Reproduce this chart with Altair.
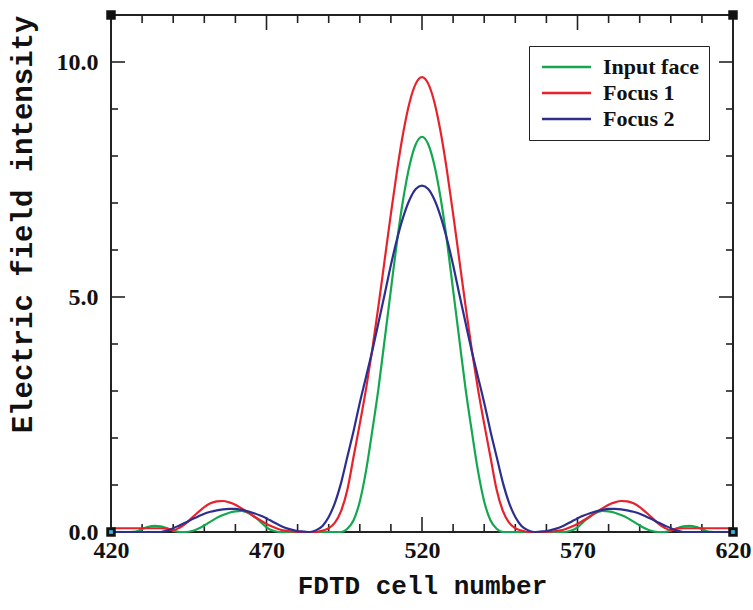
import altair as alt
import pandas as pd

# FDTD cell numbers (every 2 cells)
cells = list(range(420, 621, 2))

input_face = [
    0, 0, 0, 0, 0.01, 0.06, 0.11, 0.13, 0.12, 0.08,
    0.03, 0, 0, 0.02, 0.07, 0.14, 0.22, 0.30, 0.36, 0.41,
    0.44, 0.45, 0.41, 0.33, 0.22, 0.10, 0.03, 0, 0, 0,
    0, 0, 0, 0, 0, 0, 0, 0, 0.07, 0.25,
    0.65, 1.30, 2.15, 3.05, 4.10, 5.15, 6.20, 7.10, 7.80, 8.25,
    8.41,
    8.25, 7.80, 7.10, 6.20, 5.15, 4.10, 3.05, 2.15, 1.30, 0.65,
    0.25, 0.07, 0, 0, 0, 0, 0, 0, 0, 0,
    0, 0, 0, 0.03, 0.10, 0.22, 0.33, 0.41, 0.45, 0.44,
    0.41, 0.36, 0.30, 0.22, 0.14, 0.07, 0.02, 0, 0, 0.03,
    0.08, 0.12, 0.13, 0.11, 0.06, 0.01, 0, 0, 0, 0,
]

focus_1 = [
    0.08, 0.08, 0.08, 0.08, 0.08, 0.08, 0.08, 0.08, 0.08, 0.07,
    0.04, 0.09, 0.18, 0.30, 0.42, 0.53, 0.61, 0.65, 0.66, 0.63,
    0.58, 0.50, 0.42, 0.33, 0.25, 0.17, 0.11, 0.06, 0.03, 0.01,
    0, 0, 0, 0, 0.03, 0.08, 0.20, 0.45, 0.90, 1.60,
    2.30, 3.04, 3.88, 4.81, 5.79, 6.77, 7.70, 8.51, 9.14, 9.54,
    9.68,
    9.54, 9.14, 8.51, 7.70, 6.77, 5.79, 4.81, 3.88, 3.04, 2.30,
    1.60, 0.90, 0.45, 0.20, 0.08, 0.03, 0, 0, 0, 0,
    0.01, 0.03, 0.06, 0.11, 0.17, 0.25, 0.33, 0.42, 0.50, 0.58,
    0.63, 0.66, 0.65, 0.61, 0.53, 0.42, 0.30, 0.18, 0.09, 0.04,
    0.07, 0.08, 0.08, 0.08, 0.08, 0.08, 0.08, 0.08, 0.08, 0.08,
]

focus_2 = [
    0, 0, 0, 0, 0, 0, 0, 0, 0, 0.03,
    0.08, 0.14, 0.20, 0.27, 0.33, 0.39, 0.43, 0.46, 0.48, 0.49,
    0.49, 0.47, 0.44, 0.40, 0.35, 0.29, 0.22, 0.15, 0.09, 0.05,
    0.02, 0.01, 0, 0.04, 0.13, 0.32, 0.62, 1.05, 1.60, 2.15,
    2.75, 3.30, 3.85, 4.45, 5.06, 5.68, 6.24, 6.71, 7.07, 7.30,
    7.37,
    7.30, 7.07, 6.71, 6.24, 5.68, 5.06, 4.45, 3.85, 3.30, 2.75,
    2.15, 1.60, 1.05, 0.62, 0.32, 0.13, 0.04, 0, 0.01, 0.02,
    0.05, 0.09, 0.15, 0.22, 0.29, 0.35, 0.40, 0.44, 0.47, 0.49,
    0.49, 0.48, 0.46, 0.43, 0.39, 0.33, 0.27, 0.20, 0.14, 0.08,
    0.03, 0, 0, 0, 0, 0, 0, 0, 0, 0,
]

series_names = ["Input face", "Focus 1", "Focus 2"]
series_colors = ["#13a84f", "#e8222c", "#2d2f8f"]

x_major = [420, 470, 520, 570, 620]
x_minor = [430, 440, 450, 460, 480, 490, 500, 510, 530, 540, 550, 560, 580, 590, 600, 610]
y_major = [0, 5, 10]
y_minor = [1, 2, 3, 4, 6, 7, 8, 9]
corner_x = [420, 620, 420, 620]
corner_y = [0, 0, 11, 11]

rows = []
for name, vals in zip(series_names, [input_face, focus_1, focus_2]):
    for c, v in zip(cells, vals):
        rows.append({"cell": c, "value": v, "series": name})
df = pd.DataFrame(rows)

W, H = 622, 517
xs = alt.Scale(domain=[420, 620], nice=False, zero=False)
ys = alt.Scale(domain=[0, 11], nice=False, zero=False)

label_font = "Liberation Serif"
title_font = "Liberation Mono"

lines = alt.Chart(df).mark_line(strokeWidth=2.2, interpolate="monotone").encode(
    x=alt.X("cell:Q", scale=xs, axis=alt.Axis(
        values=x_major, ticks=False, domain=False, grid=False,
        labelFont=label_font, labelFontSize=24, labelFontWeight="bold",
        labelColor="#111", labelPadding=6, labelFlush=False,
        title="FDTD cell number", titleFont=title_font, titleFontSize=26,
        titleFontWeight="bold", titleColor="#111", titlePadding=10)),
    y=alt.Y("value:Q", scale=ys, axis=alt.Axis(
        values=y_major, format=".1f", ticks=False, domain=False, grid=False,
        labelFont=label_font, labelFontSize=24, labelFontWeight="bold",
        labelColor="#111", labelPadding=13, labelFlush=False,
        title="Electric field intensity", titleFont=title_font, titleFontSize=29,
        titleFontWeight="bold", titleColor="#111", titleAngle=270,
        titleX=-89, titleY=209, titleAlign="center", titleBaseline="middle")),
    color=alt.Color("series:N", scale=alt.Scale(domain=series_names, range=series_colors),
                    legend=alt.Legend(title=None, orient="none", legendX=418, legendY=31,
                                      symbolType="M-1.6,0L8.2,0", symbolSize=100,
                                      symbolStrokeWidth=2.5,
                                      labelFont=label_font, labelFontSize=22,
                                      labelFontWeight="bold", labelColor="#111",
                                      labelOffset=42, rowPadding=4, padding=10,
                                      strokeColor="#222", fillColor="white")),
    order=alt.Order("cell:Q"),
)

tick_color = "#222"
xmin_df = pd.DataFrame({"t": x_minor})
xmaj_df = pd.DataFrame({"t": x_major[1:-1]})
ymin_df = pd.DataFrame({"t": y_minor})
ymaj_df = pd.DataFrame({"t": y_major[1:]})


def xticks(d, length):
    bottom = alt.Chart(d).mark_rule(color=tick_color, strokeWidth=1.6).encode(
        x=alt.X("t:Q", scale=xs), y=alt.value(H), y2=alt.value(H - length))
    top = alt.Chart(d).mark_rule(color=tick_color, strokeWidth=1.6).encode(
        x=alt.X("t:Q", scale=xs), y=alt.value(0), y2=alt.value(length))
    return bottom + top


def yticks(d, length):
    left = alt.Chart(d).mark_rule(color=tick_color, strokeWidth=1.6).encode(
        y=alt.Y("t:Q", scale=ys), x=alt.value(0), x2=alt.value(length))
    right = alt.Chart(d).mark_rule(color=tick_color, strokeWidth=1.6).encode(
        y=alt.Y("t:Q", scale=ys), x=alt.value(W), x2=alt.value(W - length))
    return left + right


corners = alt.Chart(pd.DataFrame({"cx": corner_x, "cy": corner_y})).mark_square(
    filled=True, color="#111", size=90, opacity=1).encode(
    x=alt.X("cx:Q", scale=xs), y=alt.Y("cy:Q", scale=ys))
corner_dots = alt.Chart(pd.DataFrame({"cx": corner_x[:2], "cy": corner_y[:2]})).mark_square(
    filled=True, color="#3fb6e0", size=14, opacity=1).encode(
    x=alt.X("cx:Q", scale=xs), y=alt.Y("cy:Q", scale=ys))

chart = alt.layer(
    xticks(xmin_df, 8), xticks(xmaj_df, 15), yticks(ymin_df, 7), yticks(ymaj_df, 14),
    lines, corners, corner_dots,
).properties(
    width=W, height=H, autosize="none",
    padding={"left": 111, "top": 15, "right": 20, "bottom": 78},
    background="white",
).configure_view(stroke="#222", strokeWidth=2)

chart.save("out.html", embed_options={"renderer": "svg", "actions": False})
